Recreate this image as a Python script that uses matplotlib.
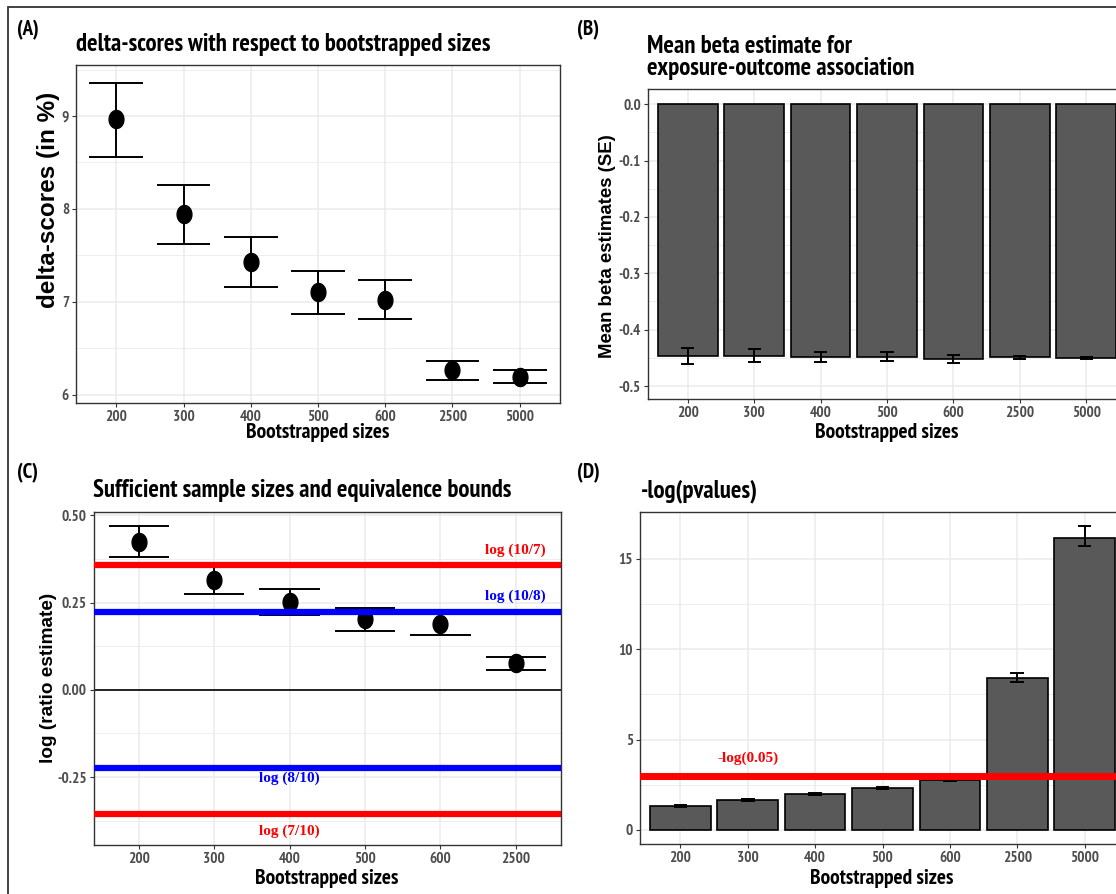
import numpy as np
import matplotlib
matplotlib.use("Agg")
import matplotlib.pyplot as plt
from matplotlib import font_manager
from matplotlib.path import Path
from matplotlib.patches import Rectangle

sizes = ["200", "300", "400", "500", "600", "2500", "5000"]

# (A) delta-scores (in %)
delta_mean = [8.97, 7.94, 7.43, 7.10, 7.02, 6.26, 6.19]
delta_low = [8.56, 7.62, 7.16, 6.87, 6.81, 6.16, 6.12]
delta_high = [9.36, 8.26, 7.70, 7.33, 7.23, 6.36, 6.26]

# (B) mean beta estimates
beta_mean = [-0.447, -0.446, -0.448, -0.448, -0.452, -0.449, -0.450]
beta_low = [-0.461, -0.457, -0.458, -0.455, -0.459, -0.452, -0.452]
beta_high = [-0.433, -0.435, -0.439, -0.440, -0.445, -0.446, -0.448]

# (C) log ratio estimates, first six sizes only
ratio_sizes = sizes[:6]
ratio_mean = [0.425, 0.315, 0.252, 0.202, 0.190, 0.077]
ratio_low = [0.380, 0.276, 0.216, 0.170, 0.158, 0.057]
ratio_high = [0.470, 0.357, 0.288, 0.236, 0.223, 0.095]
bound_labels = ["log (10/7)", "log (10/8)", "log (8/10)", "log (7/10)"]
bound_values = np.log([10 / 7, 10 / 8, 8 / 10, 7 / 10])
bound_colors = ["red", "blue", "blue", "red"]

# (D) -log(pvalues)
nlogp_mean = [1.33, 1.66, 1.98, 2.33, 2.74, 8.42, 16.15]
nlogp_low = [1.29, 1.62, 1.94, 2.29, 2.70, 8.20, 15.72]
nlogp_high = [1.37, 1.70, 2.02, 2.37, 2.78, 8.66, 16.85]
p_cut = -np.log(0.05)

names = {f.name for f in font_manager.fontManager.ttflist}
narrow = next((n for n in ["PT Sans Narrow", "IBM Plex Sans Condensed",
                           "Fira Sans Condensed", "Asap Condensed"] if n in names),
              "Liberation Sans")
plt.rcParams["font.family"] = [narrow, "DejaVu Sans"]

W, H = 1116, 894
fig = plt.figure(figsize=(W / 100, H / 100), dpi=100)


def add_ax(l, t, r, b):
    return fig.add_axes([l / W, 1 - b / H, (r - l) / W, (b - t) / H])


def ftext(x, y, s, **kw):
    fig.text(x / W, 1 - y / H, s, **kw)


def style(ax, labels, ylim, major, minor, fmt):
    n = len(labels)
    ax.set_xlim(0.4, n + 0.6)
    ax.set_ylim(ylim)
    ax.set_xticks(range(1, n + 1))
    ax.set_xticklabels(labels)
    ax.set_yticks(major)
    ax.set_yticklabels([fmt.format(v) for v in major])
    ax.set_yticks(minor, minor=True)
    ax.grid(True, which="major", color="#EBEBEB", lw=1.1)
    ax.grid(True, which="minor", axis="y", color="#EBEBEB", lw=0.6)
    ax.set_axisbelow(True)
    for sp in ax.spines.values():
        sp.set_color("#333333")
        sp.set_linewidth(1.0)
    ax.tick_params(which="major", length=3, width=0.8, color="#333333",
                   labelcolor="#4D4D4D", labelsize=11, pad=2)
    ax.tick_params(which="minor", length=0)
    for lab in ax.get_xticklabels() + ax.get_yticklabels():
        lab.set_fontweight("bold")


theta = np.linspace(0, 2 * np.pi, 60)
ellipse = Path(np.column_stack([0.82 * np.cos(theta), np.sin(theta)]))


def errbars(ax, x, low, high, half):
    x = np.asarray(x, dtype=float)
    ax.vlines(x, low, high, color="black", lw=1.4, zorder=3)
    ax.hlines(low, x - half, x + half, color="black", lw=1.4, zorder=3)
    ax.hlines(high, x - half, x + half, color="black", lw=1.4, zorder=3)


# (A)
axA = add_ax(76, 65, 560, 403)
xa = np.arange(1, len(sizes) + 1)
errbars(axA, xa, delta_low, delta_high, 0.4)
axA.plot(xa, delta_mean, ls="none", marker=ellipse, ms=13, color="black", zorder=4)
style(axA, sizes, (5.91, 9.55), [6, 7, 8, 9], [6.5, 7.5, 8.5, 9.5], "{:g}")

# (B)
axB = add_ax(648, 89, 1126, 399)
axB.bar(xa, beta_mean, width=0.9, color="#595959", edgecolor="black", lw=1.2, zorder=2)
errbars(axB, xa, beta_low, beta_high, 0.1)
style(axB, sizes, (-0.523, 0.027), [-0.5, -0.4, -0.3, -0.2, -0.1, 0.0],
      [-0.45, -0.35, -0.25, -0.15, -0.05], "{:.1f}")

# (C)
axC = add_ax(93.5, 512, 561, 845)
xc = np.arange(1, len(ratio_sizes) + 1)
axC.axhline(0, color="black", lw=1.2, zorder=2)
errbars(axC, xc, ratio_low, ratio_high, 0.4)
axC.plot(xc, ratio_mean, ls="none", marker=ellipse, ms=13, color="black", zorder=4)
for val, col in zip(bound_values, bound_colors):
    axC.axhline(val, color=col, lw=4.5, zorder=5)
label_pos = [(6, 0.400), (6, 0.267), (3, -0.253), (3, -0.405)]
for (lx, ly), lab, col in zip(label_pos, bound_labels, bound_colors):
    axC.text(lx, ly, lab, color=col, ha="center", va="center", fontsize=11,
             fontweight="bold", family=["Liberation Serif", "DejaVu Serif"], zorder=6)
style(axC, ratio_sizes, (-0.445, 0.51), [-0.25, 0.0, 0.25, 0.5],
      [-0.375, -0.125, 0.125, 0.375], "{:.2f}")

# (D)
axD = add_ax(640, 512, 1125, 844)
axD.bar(xa, nlogp_mean, width=0.9, color="#595959", edgecolor="black", lw=1.2, zorder=2)
errbars(axD, xa, nlogp_low, nlogp_high, 0.1)
axD.axhline(p_cut, color="red", lw=5, zorder=5)
axD.text(2, 3.94, "-log(0.05)", color="red", ha="center", va="center", fontsize=11,
         fontweight="bold", family=["Liberation Serif", "DejaVu Serif"], zorder=6)
style(axD, sizes, (-0.78, 17.6), [0, 5, 10, 15], [2.5, 7.5, 12.5], "{:g}")

# titles, panel tags and axis labels
for tx, ty, tag in [(17, 30, "(A)"), (577, 30, "(B)"), (17, 473, "(C)"), (577, 473, "(D)")]:
    ftext(tx, ty, tag, fontsize=15, fontweight="bold", va="center")

ftext(76, 45, "delta-scores with respect to bootstrapped sizes", fontsize=17.8,
      fontweight="bold", va="center")
ftext(647, 57.5, "Mean beta estimate for\nexposure-outcome association", fontsize=17.8,
      fontweight="bold", va="center", linespacing=0.98)
ftext(93, 491, "Sufficient sample sizes and equivalence bounds", fontsize=17.8,
      fontweight="bold", va="center")
ftext(641, 491, "-log(pvalues)", fontsize=17.8, fontweight="bold", va="center")

for cx, cy in [(318, 433), (887, 433), (327, 878), (882, 878)]:
    ftext(cx, cy, "Bootstrapped sizes", fontsize=15.4, fontweight="bold",
          ha="center", va="center")

ylab_font = ["Liberation Sans", "DejaVu Sans"]
ftext(48, 200, "delta-scores (in %)", fontsize=17.5, fontweight="bold", rotation=90,
      ha="center", va="center", family=ylab_font)
ftext(608, 246, "Mean beta estimates (SE)", fontsize=13.4, fontweight="bold", rotation=90,
      ha="center", va="center", family=ylab_font)
ftext(49, 678, "log (ratio estimate)", fontsize=13.7, fontweight="bold", rotation=90,
      ha="center", va="center", family=ylab_font)

fig.add_artist(Rectangle((8 / W, -0.1), 1.2, 1 - 7 / H + 0.1, fill=False,
                         edgecolor="#333333", lw=1.3, transform=fig.transFigure))

fig.savefig("out.png", dpi=100)
